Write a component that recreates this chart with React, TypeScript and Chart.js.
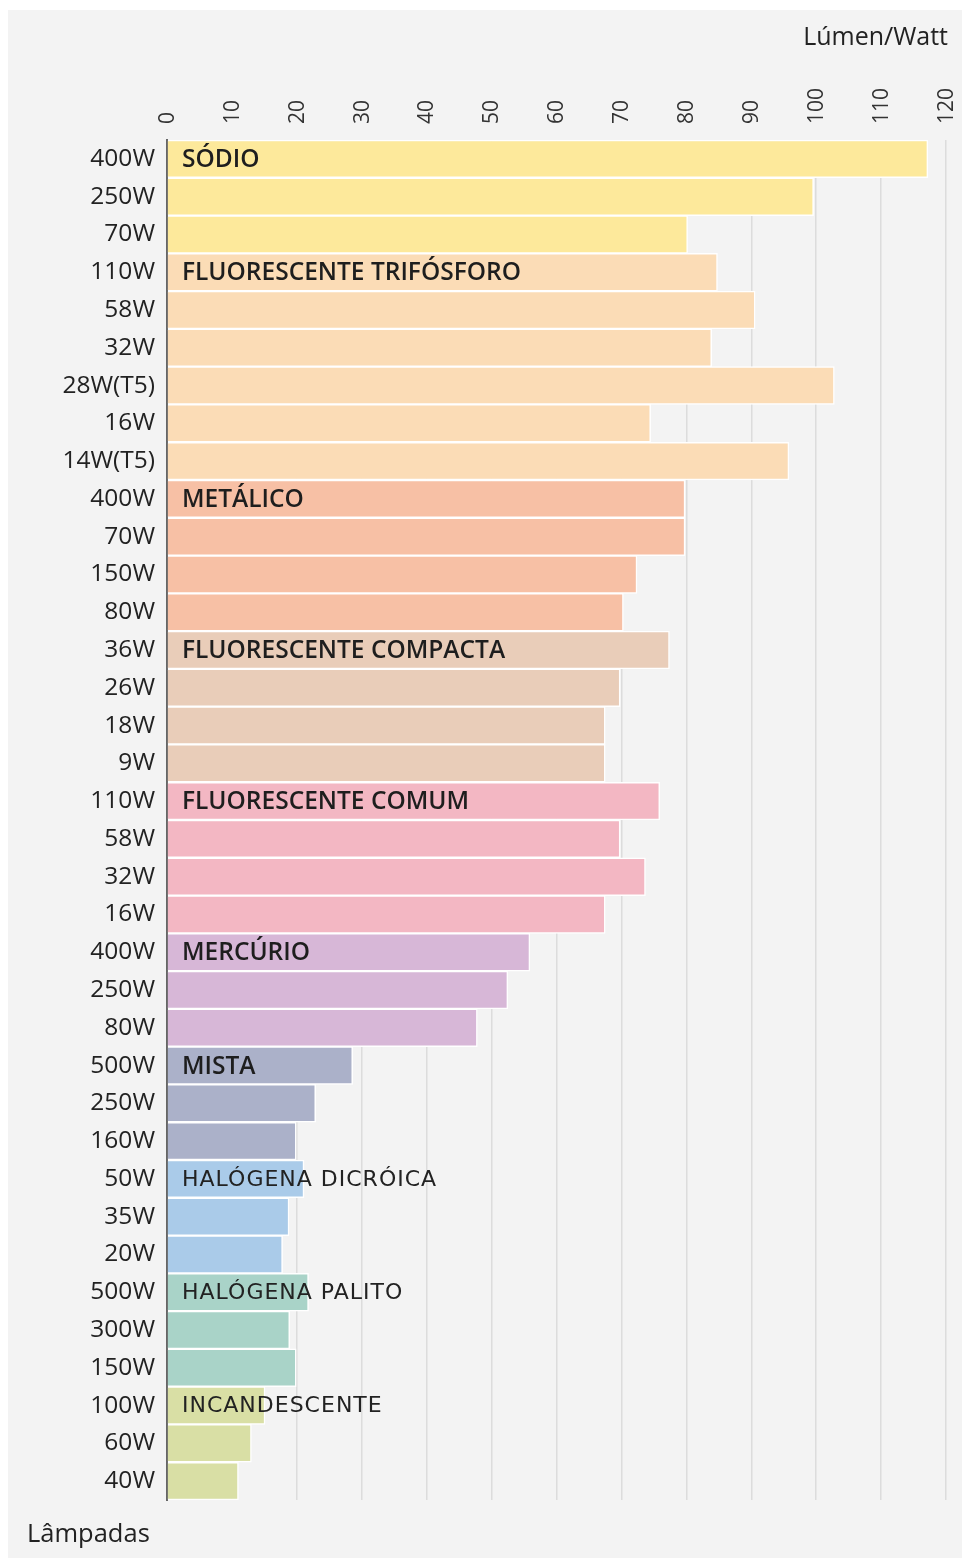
import { useEffect, useRef } from 'react';
import { Chart, registerables } from 'chart.js';

Chart.register(...registerables);

// Lamp wattage labels (one per bar, top to bottom)
const categories = [
  '400W', '250W', '70W',
  '110W', '58W', '32W', '28W(T5)', '16W', '14W(T5)',
  '400W', '70W', '150W', '80W',
  '36W', '26W', '18W', '9W',
  '110W', '58W', '32W', '16W',
  '400W', '250W', '80W',
  '500W', '250W', '160W',
  '50W', '35W', '20W',
  '500W', '300W', '150W',
  '100W', '60W', '40W',
];

// Lúmen/Watt values
const values = [
  117.2, 99.6, 80.2,
  84.8, 90.6, 83.9, 102.8, 74.5, 95.8,
  79.8, 79.8, 72.4, 70.3,
  77.4, 69.8, 67.5, 67.5,
  75.9, 69.8, 73.7, 67.5,
  55.9, 52.5, 47.8,
  28.6, 22.9, 19.9,
  21.1, 18.8, 17.8,
  21.8, 18.9, 19.9,
  15.1, 13.0, 11.0,
];

// Lamp families
const groupNames = [
  'SÓDIO',
  'FLUORESCENTE TRIFÓSFORO',
  'METÁLICO',
  'FLUORESCENTE COMPACTA',
  'FLUORESCENTE COMUM',
  'MERCÚRIO',
  'MISTA',
  'HALÓGENA DICRÓICA',
  'HALÓGENA PALITO',
  'INCANDESCENTE',
];
const groupSizes = [3, 6, 4, 4, 4, 3, 3, 3, 3, 3];
const groupColors = [
  '#fde99b',
  '#fbdcb6',
  '#f7c0a5',
  '#e9cdb9',
  '#f3b7c3',
  '#d7b7d7',
  '#abb1c9',
  '#aacbe9',
  '#a9d3c8',
  '#d9dfa5',
];
// label style: 0 = bold sans, 1 = spaced light face
const groupLabelStyle = [0, 0, 0, 0, 0, 0, 0, 1, 1, 1];

const xTicks = [0, 10, 20, 30, 40, 50, 60, 70, 80, 90, 100, 110, 120];

const xTitle = 'Lúmen/Watt';
const yTitle = 'Lâmpadas';

export default function App() {
  const ref = useRef<HTMLCanvasElement>(null);

  useEffect(() => {
    const barColors: string[] = [];
    const groupStart: number[] = [];
    let idx = 0;
    groupSizes.forEach((n, g) => {
      groupStart.push(idx);
      for (let i = 0; i < n; i++) barColors.push(groupColors[g]);
      idx += n;
    });

    const bgPlugin = {
      id: 'bg',
      beforeDraw(chart: any) {
        const { ctx, width, height } = chart;
        ctx.save();
        ctx.fillStyle = '#ffffff';
        ctx.fillRect(0, 0, width, height);
        ctx.fillStyle = '#f3f3f3';
        ctx.fillRect(8, 10, width - 8, height - 10);
        ctx.restore();
      },
    };

    const labelPlugin = {
      id: 'groupLabels',
      afterDatasetsDraw(chart: any) {
        const { ctx, chartArea } = chart;
        const yScale = chart.scales.y;
        ctx.save();
        ctx.textBaseline = 'middle';
        ctx.textAlign = 'left';
        groupNames.forEach((name, g) => {
          const y = yScale.getPixelForValue(groupStart[g]);
          if (groupLabelStyle[g] === 0) {
            ctx.font = '600 24.5px "Open Sans"';
            (ctx as any).letterSpacing = '0px';
            ctx.fillStyle = '#1e1e1e';
          } else {
            ctx.font = '400 22px "DejaVu Sans"';
            (ctx as any).letterSpacing = '1px';
            ctx.fillStyle = '#222222';
          }
          ctx.fillText(name, chartArea.left + 15, y + 1);
        });
        (ctx as any).letterSpacing = '0px';
        ctx.font = '400 25px "Open Sans"';
        ctx.fillStyle = '#222222';
        ctx.textAlign = 'right';
        ctx.fillText(xTitle, 948, 38);
        ctx.textAlign = 'left';
        ctx.font = '400 25.5px "Open Sans"';
        ctx.fillText(yTitle, 27, 1535);
        ctx.restore();
      },
    };

    const chart = new Chart(ref.current!, {
      type: 'bar',
      data: {
        labels: categories,
        datasets: [
          {
            data: values,
            backgroundColor: barColors,
            borderColor: '#ffffff',
            borderWidth: 1.5,
            borderSkipped: 'start',
            barPercentage: 1,
            categoryPercentage: 1,
          },
        ],
      },
      options: {
        indexAxis: 'y',
        responsive: false,
        animation: false,
        layout: { padding: { left: 0, top: 0, right: 15, bottom: 58 } },
        plugins: {
          legend: { display: false },
          tooltip: { enabled: false },
        },
        scales: {
          x: {
            type: 'linear',
            position: 'top',
            min: 0,
            max: 120,
            afterBuildTicks(scale: any) {
              scale.ticks = xTicks.map((v) => ({ value: v }));
            },
            afterFit(scale: any) {
              scale.height = 140;
            },
            ticks: {
              minRotation: 90,
              maxRotation: 90,
              padding: 16,
              labelOffset: 26,
              color: '#333333',
              font: { family: '"Open Sans"', size: 21 },
            },
            grid: { color: '#dcdcdc', lineWidth: 1.5, drawTicks: false },
            border: { display: false },
          },
          y: {
            type: 'category',
            afterFit(scale: any) {
              scale.width = 167;
            },
            ticks: {
              padding: 12,
              color: '#222222',
              font: { family: '"Open Sans"', size: 24.5 },
              autoSkip: false,
            },
            grid: { display: false, drawTicks: false },
            border: { display: true, color: '#666666', width: 2 },
          },
        },
      },
      plugins: [bgPlugin, labelPlugin],
    });
    return () => chart.destroy();
  }, []);

  return (
    <div style={{ position: 'absolute', left: 0, top: 0, width: 962, height: 1558 }}>
      <canvas ref={ref} width={962} height={1558} style={{ display: 'block', width: 962, height: 1558 }} />
    </div>
  );
}
